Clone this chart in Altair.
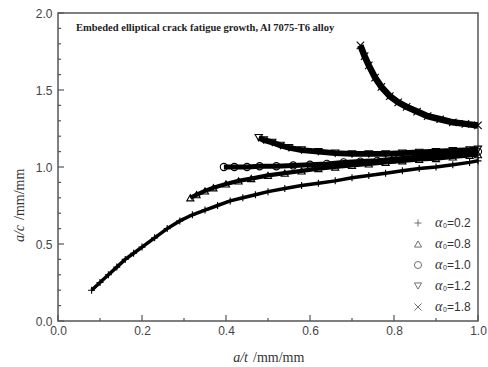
import altair as alt
import pandas as pd

# ---- data ----
x_a02 = [0.08, 0.10, 0.12, 0.14, 0.16, 0.18, 0.20, 0.23, 0.26, 0.29, 0.32, 0.35, 0.38, 0.41,
         0.44, 0.47, 0.50, 0.54, 0.58, 0.62, 0.66, 0.70, 0.74, 0.78, 0.82, 0.86, 0.90, 0.94, 0.98, 1.00]
y_a02 = [0.20, 0.25, 0.30, 0.35, 0.40, 0.44, 0.48, 0.54, 0.60, 0.65, 0.69, 0.72, 0.75, 0.78,
         0.80, 0.82, 0.84, 0.86, 0.88, 0.895, 0.91, 0.93, 0.945, 0.96, 0.975, 0.99, 1.00, 1.015, 1.03, 1.04]

x_a08 = [0.315, 0.33, 0.35, 0.37, 0.40, 0.43, 0.46, 0.50, 0.54, 0.58, 0.62, 0.66, 0.70, 0.74,
         0.78, 0.82, 0.86, 0.90, 0.94, 0.98, 1.00]
y_a08 = [0.80, 0.82, 0.845, 0.865, 0.89, 0.91, 0.925, 0.945, 0.96, 0.975, 0.99, 1.00, 1.01, 1.02,
         1.03, 1.04, 1.05, 1.055, 1.065, 1.075, 1.08]

x_a10 = [0.395, 0.42, 0.45, 0.48, 0.52, 0.56, 0.60, 0.64, 0.68, 0.72, 0.76, 0.80, 0.84, 0.88,
         0.92, 0.96, 1.00]
y_a10 = [1.00, 1.00, 1.00, 1.005, 1.005, 1.01, 1.015, 1.02, 1.03, 1.035, 1.04, 1.05, 1.06, 1.07,
         1.08, 1.09, 1.10]

x_a12 = [0.478, 0.49, 0.51, 0.53, 0.55, 0.58, 0.62, 0.66, 0.70, 0.74, 0.78, 0.82, 0.86, 0.90,
         0.94, 0.98, 1.00]
y_a12 = [1.19, 1.175, 1.16, 1.14, 1.125, 1.11, 1.10, 1.09, 1.085, 1.085, 1.085, 1.09, 1.095, 1.10,
         1.105, 1.11, 1.115]

x_a18 = [0.72, 0.73, 0.74, 0.755, 0.77, 0.79, 0.81, 0.83, 0.855, 0.88, 0.91, 0.94, 0.97, 1.00]
y_a18 = [1.79, 1.72, 1.66, 1.58, 1.52, 1.46, 1.42, 1.39, 1.36, 1.33, 1.31, 1.29, 1.28, 1.27]

series_keys = ["0.2", "0.8", "1.0", "1.2", "1.8"]
series_x = [x_a02, x_a08, x_a10, x_a12, x_a18]
series_y = [y_a02, y_a08, y_a10, y_a12, y_a18]
shape_paths = ["M-1,0L1,0M0,-1L0,1", "triangle-up", "circle", "triangle-down",
               "M-1,-1L1,1M-1,1L1,-1"]
band_widths = [3.5, 6.5, 6, 7, 10]
marker_sizes = [49, 55, 40, 49, 110]

x_major = [0.0, 0.2, 0.4, 0.6, 0.8, 1.0]
x_minor = [0.1, 0.3, 0.5, 0.7, 0.9]
y_major = [0.0, 0.5, 1.0, 1.5, 2.0]
y_minor = [0.1, 0.2, 0.3, 0.4, 0.6, 0.7, 0.8, 0.9, 1.1, 1.2, 1.3, 1.4, 1.6, 1.7, 1.8, 1.9]

title_text = "Embeded elliptical crack fatigue growth, Al 7075-T6 alloy"

# ---- build tables ----
rows = []
for k, xs, ys in zip(series_keys, series_x, series_y):
    for xv, yv in zip(xs, ys):
        rows.append({"series": k, "x": xv, "y": yv})
df = pd.DataFrame(rows)

W, H = 420, 308
frame = "#555555"
labcol = "#444444"

xenc = alt.X("x:Q", scale=alt.Scale(domain=[0, 1], nice=False),
             axis=alt.Axis(values=x_major, format=".1f", title=None, ticks=False, domain=False,
                           grid=False, labelFont="Liberation Sans", labelFontSize=12,
                           labelColor=labcol, labelPadding=4, labelFlush=False))
yenc = alt.Y("y:Q", scale=alt.Scale(domain=[0, 2], nice=False),
             axis=alt.Axis(values=y_major, format=".1f", title=None, ticks=False, domain=False,
                           grid=False, labelFont="Liberation Sans", labelFontSize=12,
                           labelColor=labcol, labelPadding=6, labelFlush=False))

lines = alt.Chart(df).mark_line(color="black", strokeCap="butt").encode(
    x=xenc, y=yenc, detail="series:N",
    strokeWidth=alt.StrokeWidth("series:N", scale=alt.Scale(domain=series_keys, range=band_widths),
                                legend=None))

pts = alt.Chart(df).mark_point(filled=False, color="black", strokeWidth=1.1,
                               opacity=1).encode(
    x="x:Q", y="y:Q",
    shape=alt.Shape("series:N", scale=alt.Scale(domain=series_keys, range=shape_paths),
                    legend=None),
    size=alt.Size("series:N", scale=alt.Scale(domain=series_keys, range=marker_sizes),
                  legend=None))

xmaj = alt.Chart(pd.DataFrame({"x": x_major})).mark_rule(color=frame, strokeWidth=1.2).encode(
    x="x:Q", y=alt.value(H), y2=alt.value(H - 6))
xmin = alt.Chart(pd.DataFrame({"x": x_minor})).mark_rule(color=frame, strokeWidth=1.2).encode(
    x="x:Q", y=alt.value(H), y2=alt.value(H - 3))
ymaj = alt.Chart(pd.DataFrame({"y": y_major})).mark_rule(color=frame, strokeWidth=1.2).encode(
    y="y:Q", x=alt.value(0), x2=alt.value(6))
ymin = alt.Chart(pd.DataFrame({"y": y_minor})).mark_rule(color=frame, strokeWidth=1.2).encode(
    y="y:Q", x=alt.value(0), x2=alt.value(3))

one = pd.DataFrame({"k": [0]})
title = alt.Chart(one).mark_text(align="left", baseline="middle", font="Liberation Serif",
                                 fontWeight="bold", fontSize=10.5, text=title_text,
                                 color="#222222").encode(x=alt.value(18), y=alt.value(15))

xt1 = alt.Chart(one).mark_text(align="right", baseline="middle", font="Liberation Serif",
                               fontStyle="italic", fontSize=14, text="a/t",
                               color="#333333").encode(x=alt.value(190), y=alt.value(345))
xt2 = alt.Chart(one).mark_text(align="left", baseline="middle", font="Liberation Serif",
                               fontSize=14, text="/mm/mm",
                               color="#333333").encode(x=alt.value(195), y=alt.value(345))
yt1 = alt.Chart(one).mark_text(align="right", baseline="middle", font="Liberation Serif",
                               fontStyle="italic", fontSize=14, text="a/c", angle=270,
                               color="#333333").encode(x=alt.value(-38), y=alt.value(212))
yt2 = alt.Chart(one).mark_text(align="left", baseline="middle", font="Liberation Serif",
                               fontSize=14, text="/mm/mm", angle=270,
                               color="#333333").encode(x=alt.value(-38), y=alt.value(207))

main = alt.layer(lines, pts, xmaj, xmin, ymaj, ymin, title, xt1, xt2, yt1, yt2)

# ---- manual legend (pixel layout) ----
leg = pd.DataFrame({
    "shape": shape_paths,
    "val": ["=" + k for k in series_keys],
    "py": [210 + 21 * i for i in range(5)],
})
leg["pys"] = leg["py"] + 3
ly = alt.Y("py:Q", scale=None, axis=None)
leg_pts = alt.Chart(leg).mark_point(filled=False, color="#333333", strokeWidth=1, size=50).encode(
    x=alt.value(360), y=ly, shape=alt.Shape("shape:N", scale=None, legend=None))
leg_a = alt.Chart(leg).mark_text(align="left", baseline="middle", font="Liberation Serif",
                                 fontStyle="italic", fontSize=14, text="α",
                                 color="#333333").encode(x=alt.value(377), y=ly)
leg_s = alt.Chart(leg).mark_text(align="left", baseline="middle", font="Liberation Sans",
                                 fontSize=7, text="0", color="#333333").encode(
    x=alt.value(385), y=alt.Y("pys:Q", scale=None, axis=None))
leg_v = alt.Chart(leg).mark_text(align="left", baseline="middle", font="Liberation Sans",
                                 fontSize=12, color="#333333").encode(
    x=alt.value(389), y=ly, text="val:N")
legend = alt.layer(leg_pts, leg_a, leg_s, leg_v)

chart = alt.layer(main, legend).resolve_scale(y="independent", shape="independent").properties(
    width=W, height=H,
    autosize=alt.AutoSizeParams(type="none"),
    padding={"left": 58, "top": 13, "right": 10, "bottom": 46},
    background="white",
).configure_view(stroke=frame, strokeWidth=1.5)

chart.save("out.html", embed_options={"renderer": "svg", "actions": False})
